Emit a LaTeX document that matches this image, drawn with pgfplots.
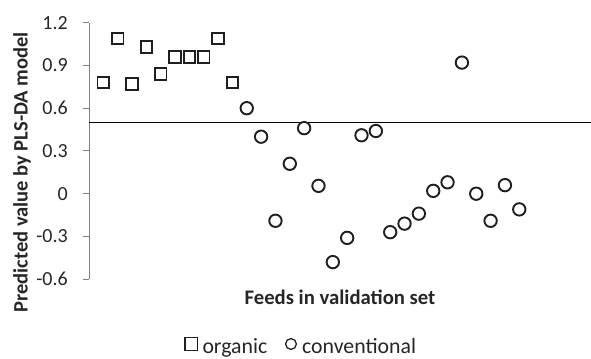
\documentclass[border=0pt]{standalone}
\usepackage{fontspec}
\setmainfont{Carlito}
\usepackage{pgfplots}
\pgfplotsset{compat=1.18}
\begin{document}
\begin{tikzpicture}
\begin{axis}[name=ax, at={(0,0)}, anchor=south west,
  scale only axis, width=502bp, height=256.5bp,
  xmin=0, xmax=35, ymin=-0.6, ymax=1.2,
  axis lines*=left,
  x axis line style={draw=none},
  xtick=\empty,
  ytick={-0.6,-0.3,0,0.3,0.6,0.9,1.2},
  yticklabels={-0.6,-0.3,0,0.3,0.6,0.9,1.2},
  tick align=outside, major tick length=6bp,
  y axis line style={black!50, line width=0.9bp, -},
  ytick style={black!50, line width=0.9bp},
  yticklabel style={font=\fontsize{20bp}{24bp}\selectfont, text=black!85, inner sep=0pt, anchor=east, xshift=-15bp},
  ylabel={Predicted value by PLS-DA model},
  every axis y label/.style={at={(axis description cs:-0.1335,0.417)}, rotate=90, anchor=center,
     font=\fontsize{20.5bp}{24bp}\selectfont\bfseries, text=black!85, inner sep=0pt},
  xlabel={Feeds in validation set},
  every axis x label/.style={at={(axis description cs:0.5,-0.0975)}, anchor=base, inner sep=0pt,
     font=\fontsize{20.7bp}{24bp}\selectfont\bfseries, text=black!85},
  legend style={at={(axis description cs:0.42,-0.265)}, anchor=center, draw=none, fill=none,
    font=\fontsize{21.8bp}{24bp}\selectfont, text=black!85, legend columns=2,
    nodes={inner xsep=0pt},
    /tikz/every even column/.append style={column sep=16bp}},
  legend image code/.code={\path (-7.5bp,0bp) (11bp,0bp); \draw[#1] plot coordinates {(0bp,0.32em)};},
  legend cell align=left,
  clip=false,
]
\addplot[black, line width=0.9bp, forget plot] coordinates {(0,0.5) (35,0.5)};
\addplot[only marks, mark=square, mark size=5.8bp, mark options={line width=1.9bp, draw=black!88}, forget plot] coordinates {
(1,0.78) (2,1.09) (3,0.77) (4,1.03) (5,0.84) (6,0.96) (7,0.96) (8,0.96) (9,1.09) (10,0.78)};
\addplot[only marks, mark=o, mark size=6.2bp, mark options={line width=1.9bp, draw=black!88}, forget plot] coordinates {
(11,0.60) (12,0.40) (13,-0.19) (14,0.21) (15,0.46) (16,0.055) (17,-0.48) (18,-0.31) (19,0.41) (20,0.44)
(21,-0.27) (22,-0.21) (23,-0.14) (24,0.02) (25,0.08) (26,0.92) (27,0.0) (28,-0.19) (29,0.06) (30,-0.11)};
\addlegendimage{only marks, mark=square, mark size=6.4bp, mark options={line width=1.3bp, draw=black!88}}
\addlegendentry{organic}
\addlegendimage{only marks, mark=o, mark size=5.4bp, mark options={line width=1.3bp, draw=black!88}}
\addlegendentry{conventional}
\end{axis}
\pgfresetboundingbox
\path ([shift={(-89bp,-79bp)}]ax.south west) rectangle ([shift={(0bp,22.7bp)}]ax.north east);
\end{tikzpicture}
\end{document}
